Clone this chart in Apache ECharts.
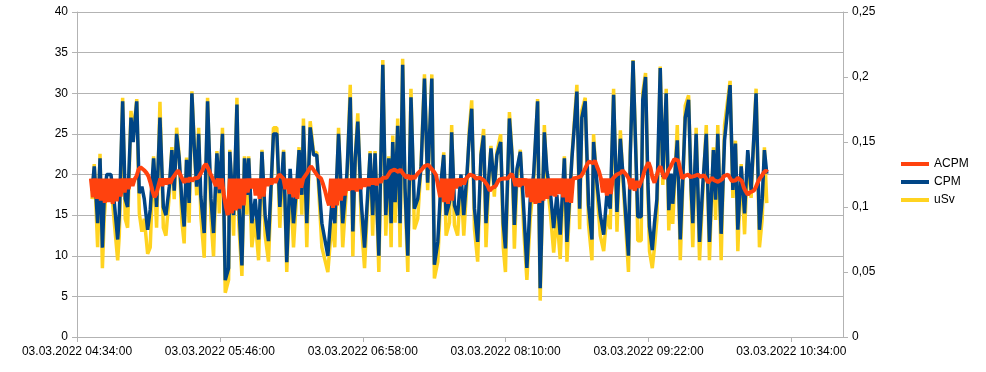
<!DOCTYPE html>
<html>
<head>
<meta charset="utf-8">
<script src="https://cdn.jsdelivr.net/npm/echarts@6/dist/echarts.min.js"></script>
<style>
html,body{margin:0;padding:0;background:#fff;}
#c{width:986px;height:372px;}
</style>
</head>
<body>
<div id="c"></div>
<script>
// x values are minutes after 03.03.2022 04:34:00
var xTickLabels = ['03.03.2022 04:34:00','03.03.2022 05:46:00','03.03.2022 06:58:00','03.03.2022 08:10:00','03.03.2022 09:22:00','03.03.2022 10:34:00'];
var legendNames = ['ACPM', 'CPM', 'uSv'];

var cpmMin = [7.6,8.7,10.4,11.6,12.8,13.7,15.0,17.1,18.8,20.5,21.3,23.0,24.3,25.5,27.2,28.3,30.1,31.4,32.7,33.9,35.6,36.9,38.6,40.1,41.8,43.5,44.8,46.5,47.8,49.0,50.2,51.5,52.9,54.0,55.2,56.5,57.9,59.1,60.3,61.3,62.4,64.1,65.8,67.5,68.8,70.5,71.7,73.3,74.7,
76.4,77.0,78.9,80.6,81.6,83.1,84.4,85.6,86.5,88.1,89.8,91.5,93.2,94.8,96.5,99.0,100.7,102.2,104.1,105.7,107.4,109.1,110.8,111.9,113.3,114.1,115.8,117.5,119.2,120.8,123.4,126.4,
128.4,129.9,131.8,133.9,136.0,137.7,139.0,140.2,141.5,143.2,144.9,147.7,149.0,150.2,152.1,154.1,155.6,157.1,158.3,159.1,160.3,161.6,162.8,164.1,165.3,166.7,168.3,170.0,171.7,173.4,175.1,176.7,178.8,180.1,181.8,183.4,184.8,186.0,187.7,188.8,190.2,191.8,193.5,194.9,196.5,197.7,198.9,200.3,201.9,203.6,204.9,206.1,207.3,208.6,210.3,211.6,
213.5,214.8,215.9,217.9,219.2,220.4,221.7,223.4,225.1,226.7,228.4,230.1,232.1,233.4,235.5,236.8,238.5,240.2,241.8,243.5,245.6,246.9,249.4,251.9,253.3,254.4,256.1,257.8,259.5,260.3,262.0,263.7,265.4,267.0,268.7,270.4,272.1,273.8,275.4,277.9,278.8,280.2,
281.8,282.6,284.3,285.1,286.5,287.7,288.5,289.9,291.0,292.2,293.9,295.2,296.9,298.2,299.4,300.2,302.5,304.0,305.3,306.5,308.2,309.5,310.3,312.0,313.7,315.4,317.1,318.7,320.7,321.8,322.9,324.6,326.3,329.1,330.5,331.8,333.0,334.7,336.4,338.0,339.7,342.2,343.9,345.3,346.4,347.6];

var cpm = [18,21,14,22,11,17,20,20,16.5,12,15,29,17,16,27,24,29,17.7,18.5,17,13.2,15.7,22,16,27,16,15,18.5,23,18,25,22,16.5,13.6,21.8,16.5,30,23.4,18.5,25,17.3,12.8,29,17,12.8,22.6,17.7,25,7,
8.5,22.8,15,28.6,16.2,8.8,22,17.5,22,14,17,12,22.8,15,11.8,25,25,16,22.8,9.2,20.7,14,19,23,17.5,26,14,25.8,22.4,22.4,14,10,
16.5,14,25,14,20,29.5,13,22,26.5,16.7,11,22.6,15,22.6,10,33.5,15,22,14,24,16.6,26,14,33.5,18.3,10,29.5,15.8,17,21,31.8,19,31.8,8.9,11.7,19,22.4,15,16.6,25.2,16.2,15,20,15,20,24.8,28.1,15.8,11.7,22.4,24.8,14,19,23.2,18.3,22.4,
24,14,10.9,26.9,22.4,13.8,20.7,22.8,15.8,8.5,17,20,29,6,25.2,20.4,17.9,13.4,17.5,12.6,22,11.7,22,30.2,15.8,27,29,16.2,12,24,19,15,12.6,17.5,15.8,29.8,15.4,24.4,19,10,22.4,34,
21,14.8,14.8,29.2,32,18.9,13.6,10.7,14,16.9,33.1,19.7,30,15.6,20.1,16.4,24.2,12,19.7,27,29.2,18.1,14,25,11.7,18.9,25,11.7,23,16.9,25,12.7,24.2,31,18.1,23.8,13.2,21,15.2,23,18.1,30,13.2,17,23,20.1];

var usv = [0.106,0.133,0.069,0.141,0.053,0.091,0.119,0.119,0.088,0.059,0.078,0.184,0.091,0.084,0.174,0.155,0.183,0.095,0.081,0.091,0.064,0.069,0.139,0.084,0.181,0.084,0.078,0.109,0.146,0.106,0.161,0.139,0.088,0.072,0.138,0.088,0.189,0.148,0.109,0.161,0.093,0.061,0.184,0.091,0.062,0.143,0.095,0.161,0.034,
0.044,0.144,0.078,0.184,0.086,0.047,0.139,0.094,0.139,0.069,0.091,0.059,0.144,0.078,0.058,0.161,0.161,0.084,0.144,0.05,0.123,0.069,0.113,0.146,0.094,0.168,0.069,0.166,0.142,0.142,0.069,0.05,
0.088,0.069,0.161,0.069,0.119,0.194,0.062,0.139,0.172,0.089,0.053,0.143,0.078,0.143,0.05,0.213,0.078,0.139,0.069,0.155,0.088,0.168,0.069,0.214,0.108,0.05,0.191,0.083,0.091,0.133,0.202,0.113,0.202,0.045,0.058,0.113,0.142,0.078,0.088,0.163,0.086,0.078,0.119,0.078,0.119,0.16,0.182,0.083,0.058,0.142,0.16,0.069,0.113,0.147,0.108,0.142,
0.156,0.069,0.05,0.173,0.142,0.068,0.123,0.144,0.083,0.044,0.091,0.119,0.183,0.028,0.163,0.121,0.096,0.065,0.094,0.06,0.139,0.058,0.139,0.194,0.083,0.174,0.184,0.086,0.059,0.156,0.113,0.078,0.066,0.094,0.083,0.191,0.081,0.159,0.113,0.05,0.142,0.213,
0.133,0.074,0.074,0.188,0.203,0.112,0.066,0.053,0.069,0.09,0.208,0.117,0.191,0.082,0.119,0.087,0.163,0.059,0.117,0.178,0.186,0.107,0.069,0.161,0.059,0.112,0.163,0.059,0.146,0.09,0.163,0.059,0.163,0.197,0.107,0.151,0.066,0.133,0.079,0.141,0.107,0.191,0.069,0.091,0.146,0.103];

// ACPM sampled every minute starting at minute 7 (04:41)
var acpmStartMin = 7;
var acpm = [19.5,17.2,19.5,17,19.5,
16.8,19.5,16.5,19.5,16.6,19.5,16.4,19.5,16.7,19.5,
17.3,19.5,17.8,19.5,18.2,19.5,18.6,19.4,
19.8,20.6,20.9,20.7,20.5,20.2,19.8,
19,18,17.2,17.6,18.6,
19.5,18.6,19.5,18.8,19.5,18.9,19.5,19.6,
20.2,20.5,20,
19.5,19,19.5,19.1,19.6,19.2,19.5,19.3,19.6,19.8,
20.4,21,21.3,20.8,20.2,19.7,
19.5,18.6,19.5,18.2,19.5,17.5,
16,15,19.5,15.2,19.5,15.6,19.5,15.8,19.5,16.2,19.5,
17.8,19.5,18.3,19.5,17.4,19.5,
17,19.5,17.3,19.5,
18.6,19.5,18.8,19.5,19,19.6,
20,19.8,19.5,
18.2,19.5,17.6,19.5,17.2,19.5,17,
19.5,18.4,19.5,19.6,20.2,20.7,
21,20.8,20.3,
19.9,19.7,19.5,18.8,18,
17,16.2,19.5,15.9,19.5,16.2,19.5,16.8,19.5,17.4,
19.5,18,19.5,18.1,19.5,17.9,19.5,18.2,19.5,
18.5,19.5,18.6,19.5,18.8,19.5,18.7,19.5,19,19.6,19.8,
19.6,20,20.4,20.2,20.6,20.8,20.3,20.6,20.2,19.9,
19.6,19.9,19.4,19.8,19.5,19.9,20.2,20.4,
20.7,21,20.8,21.2,20.9,20.6,20.3,19.9,
18.5,17.2,19.5,16.6,19.5,16.4,19.5,16.8,19.5,
18.3,19.5,18.6,19.5,18.8,19.5,19.6,
20,20.2,19.8,
19.5,19.4,19.6,19.5,19.3,19.2,
18.6,18,18.3,18.1,18.6,19.1,
19.4,19.6,19.5,19.7,19.5,19.8,
20.1,
19.5,18.6,19.5,18.5,19.5,18.7,19.5,
17.2,19.5,16.6,19.5,16.4,19.5,16.5,19.5,16.8,19.5,17,
19.5,17.4,19.5,17.3,19.5,17.6,19.5,17.2,19.5,16.6,19.5,16.5,
19.5,19.3,19.6,19.5,19.8,20.2,20.7,
21.2,21.6,21.8,21.4,21.7,21,20.4,
19.5,17.8,19.5,17.4,19.5,17.6,19.5,
19.7,20,19.8,20.2,20.5,20.3,19.9,
19.5,18.2,19.5,18,19.2,18.4,
18.6,19.6,20.5,21,21.5,20.8,19.6,
19,19.8,20.6,21,20.2,19.5,19.9,
20.5,20.9,21.4,21.9,22,21.7,20.6,19.5,
19.8,19.6,20,19.7,19.5,19.8,19.6,20,19.7,19.6,19.9,19.5,
19,19.2,19.6,19.3,19.5,19.1,19,19.4,19.8,19.7,
20,19.6,19.2,19,19.3,19.6,19.5,19.2,18.4,17.9,
17.5,17.8,17.6,18,18.4,19,19.5,
19.8,20.2,20.5,20.3];

var cpmData = cpmMin.map(function (t, i) { return [t, cpm[i]]; });
var usvData = cpmMin.map(function (t, i) { return [t, usv[i]]; });
var acpmData = acpm.map(function (v, i) { return [acpmStartMin + i, v]; });

var gray = '#b3b3b3';
var font = 'Liberation Sans, Arial, sans-serif';
var chart = echarts.init(document.getElementById('c'), null, {renderer: 'canvas'});
chart.setOption({
  animation: false,
  backgroundColor: '#fff',
  grid: {left: 77, right: 143, top: 12, bottom: 35, containLabel: false},
  legend: {
    orient: 'vertical', left: 896, top: 152, padding: 5,
    icon: 'rect',
    itemWidth: 28, itemHeight: 4, itemGap: 4,
    data: legendNames,
    textStyle: {fontFamily: font, fontSize: 12, color: '#000', lineHeight: 14}
  },
  xAxis: {
    type: 'value', min: 0, max: 386, interval: 72,
    axisLine: {show: true, lineStyle: {color: gray, width: 1}},
    axisTick: {show: true, length: 5, lineStyle: {color: gray}},
    splitLine: {show: false},
    axisLabel: {
      margin: 9, fontFamily: font, fontSize: 12, color: '#000', showMaxLabel: false,
      formatter: function (v) {
        if (Math.abs(v % 72) > 1e-6) return '';
        var k = Math.round(v / 72);
        return xTickLabels[k] || '';
      }
    }
  },
  yAxis: [
    {
      type: 'value', min: 0, max: 40, interval: 5,
      axisLine: {show: true, lineStyle: {color: gray}},
      axisTick: {show: true, length: 5, lineStyle: {color: gray}},
      splitLine: {show: true, lineStyle: {color: gray, width: 1}},
      axisLabel: {margin: 9, fontFamily: font, fontSize: 12, color: '#000'}
    },
    {
      type: 'value', min: 0, max: 0.25, interval: 0.05,
      axisLine: {show: true, lineStyle: {color: gray}},
      axisTick: {show: true, length: 5, lineStyle: {color: gray}},
      splitLine: {show: false},
      axisLabel: {
        margin: 9, fontFamily: font, fontSize: 12, color: '#000',
        formatter: function (v) { return String(+v.toFixed(2)).replace('.', ','); }
      }
    }
  ],
  series: [
    {name: 'ACPM', type: 'line', data: acpmData, yAxisIndex: 0, z: 4, symbol: 'none',
     lineStyle: {color: '#ff420e', width: 4}, itemStyle: {color: '#ff420e'}},
    {name: 'CPM', type: 'line', data: cpmData, yAxisIndex: 0, z: 3, symbol: 'none',
     lineStyle: {color: '#004586', width: 3.5}, itemStyle: {color: '#004586'}},
    {name: 'uSv', type: 'line', data: usvData, yAxisIndex: 1, z: 2, symbol: 'none',
     lineStyle: {color: '#ffd320', width: 3.5}, itemStyle: {color: '#ffd320'}}
  ]
});
</script>
</body>
</html>
